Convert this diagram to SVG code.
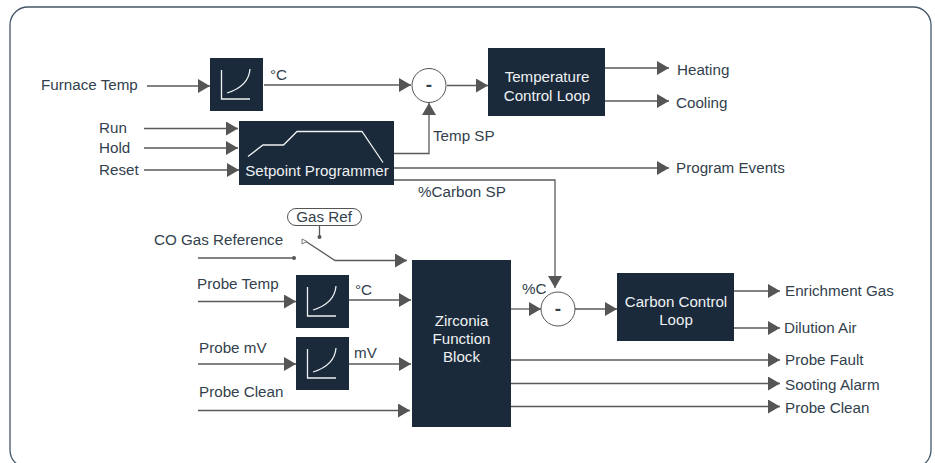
<svg xmlns="http://www.w3.org/2000/svg" width="935" height="463" viewBox="0 0 935 463">
<style>
text{font-family:"Liberation Sans",Arial,sans-serif;font-size:15.200px;fill:#333f4d}
.w{fill:#eef1f3;text-anchor:middle;font-size:15.100px}
.b{fill:#1a2a3a}
.l{fill:none;stroke:#5a5a5a;stroke-width:1.300}
.c{fill:none;stroke:#eef1f3;stroke-width:1.300}
.h{fill:#555}
.m{font-size:19px;font-weight:bold;text-anchor:middle}
</style>
<defs>
<marker id="a" markerUnits="userSpaceOnUse" markerWidth="12" markerHeight="14" refX="12" refY="7" orient="auto"><path d="M0 0L12 7L0 14Z" fill="#555"/></marker>
<g id="chart"><path class="c" d="M11.500 12V41H40M17 35C30 31 39 24 40 11"/></g>
</defs>
<rect id="frame" x="10" y="7" width="921" height="461" rx="18" fill="#fff" stroke="#44586a" stroke-width="1.300"/>
<g id="connectors">
<path class="l" marker-end="url(#a)" d="M147 86H210"/>
<path class="l" marker-end="url(#a)" d="M264 85H411"/>
<path class="l" marker-end="url(#a)" d="M447 85.500H488"/>
<path class="l" marker-end="url(#a)" d="M605 68H669"/>
<path class="l" marker-end="url(#a)" d="M605 101H669"/>
<path class="l" marker-end="url(#a)" d="M144 128.500H238"/>
<path class="l" marker-end="url(#a)" d="M144 148H238"/>
<path class="l" marker-end="url(#a)" d="M144 170H239"/>
<path class="l" marker-end="url(#a)" d="M394 153.500H429V103"/>
<path class="l" marker-end="url(#a)" d="M394 168H669"/>
<path class="l" marker-end="url(#a)" d="M394 180H555V288"/>
<path class="l" d="M198 258H294"/>
<circle class="h" cx="294" cy="258" r="2"/>
<path class="l" marker-end="url(#a)" d="M306 241.500L335 260.500H407"/>
<path class="l" d="M319.500 226V237"/>
<circle class="h" cx="319.500" cy="237" r="2"/>
<path class="l" marker-end="url(#a)" d="M198 301.500H296"/>
<path class="l" marker-end="url(#a)" d="M349 300H411"/>
<path class="l" marker-end="url(#a)" d="M198 364H296"/>
<path class="l" marker-end="url(#a)" d="M349 364H411"/>
<path class="l" marker-end="url(#a)" d="M198 410.500H410"/>
<path class="l" marker-end="url(#a)" d="M511 309H541"/>
<path class="l" marker-end="url(#a)" d="M575 309H617"/>
<path class="l" marker-end="url(#a)" d="M734 291H780"/>
<path class="l" marker-end="url(#a)" d="M734 328H780"/>
<path class="l" marker-end="url(#a)" d="M511 360H780"/>
<path class="l" marker-end="url(#a)" d="M511 383.500H780"/>
<path class="l" marker-end="url(#a)" d="M510 406.500H780"/>
<path d="M302 239L307 241.500L302 244Z" fill="#fff" stroke="#555" stroke-width="0.800"/>
</g>
<g id="furnace-block"><rect class="b" x="210" y="58" width="53" height="53"/><use href="#chart" x="210" y="58"/></g>
<g id="setpoint-programmer"><rect class="b" x="239" y="121" width="155" height="64"/><path class="c" d="M248 156.500L263 145H283.500L297 131.500H362L383 162.500"/><text class="w" x="317" y="176">Setpoint Programmer</text></g>
<g id="temp-sum"><circle cx="429" cy="85.500" r="17" fill="#fff" stroke="#555" stroke-width="1"/><text class="m" x="429" y="91">-</text></g>
<g id="temperature-loop"><rect class="b" x="488" y="48" width="117" height="68"/><text class="w" x="547" y="82">Temperature</text><text class="w" x="547" y="101">Control Loop</text></g>
<g id="gas-ref"><rect x="287.500" y="208.500" width="74" height="17" rx="8.500" fill="#fff" stroke="#555" stroke-width="1"/><text x="324" y="222" text-anchor="middle">Gas Ref</text></g>
<g id="probe-temp-block"><rect class="b" x="296" y="275" width="53" height="53"/><use href="#chart" x="296" y="275"/></g>
<g id="probe-mv-block"><rect class="b" x="296" y="337" width="53" height="53"/><use href="#chart" x="296" y="337"/></g>
<g id="zirconia"><rect class="b" x="412" y="260" width="99" height="167"/><text class="w" x="461.500" y="326">Zirconia</text><text class="w" x="461.500" y="344">Function</text><text class="w" x="461.500" y="362">Block</text></g>
<g id="carbon-sum"><circle cx="558" cy="309" r="17" fill="#fff" stroke="#555" stroke-width="1"/><text class="m" x="558" y="315">-</text></g>
<g id="carbon-loop"><rect class="b" x="617" y="273" width="117" height="68"/><text class="w" x="676" y="307">Carbon Control</text><text class="w" x="676" y="325">Loop</text></g>
<g id="labels">
<text x="41" y="90">Furnace Temp</text>
<text x="270" y="80">°C</text>
<text x="99" y="133">Run</text>
<text x="99" y="153">Hold</text>
<text x="99" y="175">Reset</text>
<text x="433" y="141">Temp SP</text>
<text x="418" y="197">%Carbon SP</text>
<text x="677" y="75">Heating</text>
<text x="676" y="108">Cooling</text>
<text x="676" y="173">Program Events</text>
<text x="154" y="245">CO Gas Reference</text>
<text x="197" y="289">Probe Temp</text>
<text x="355" y="295">°C</text>
<text x="199" y="353">Probe mV</text>
<text x="354" y="358">mV</text>
<text x="199" y="397">Probe Clean</text>
<text x="522" y="294">%C</text>
<text x="785" y="296">Enrichment Gas</text>
<text x="784" y="333">Dilution Air</text>
<text x="785" y="365">Probe Fault</text>
<text x="785" y="390">Sooting Alarm</text>
<text x="785" y="413">Probe Clean</text>
</g>
</svg>
